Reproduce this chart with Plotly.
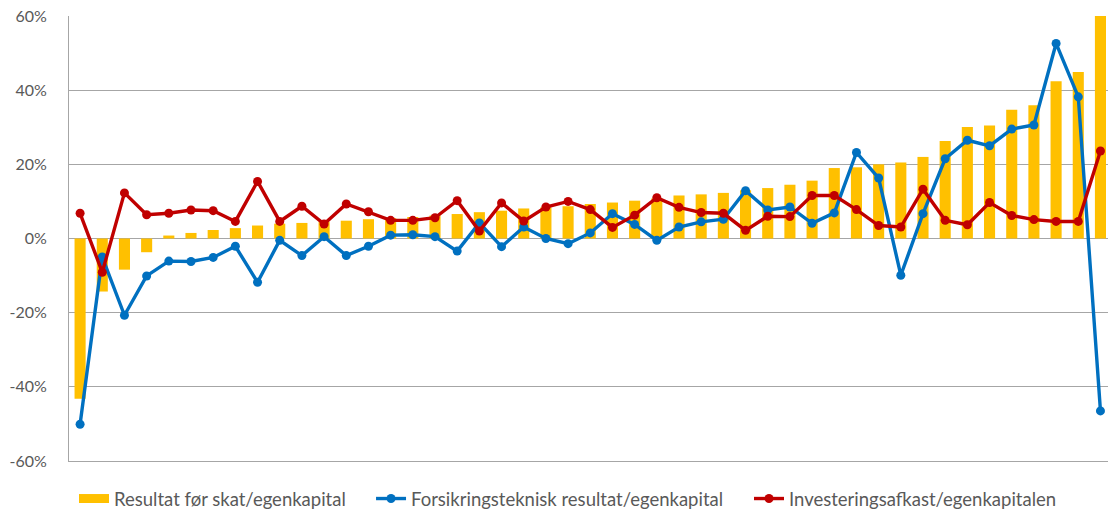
import plotly.graph_objects as go

# Company index (sorted by result before tax)
companies = list(range(1, 48))

# Result before tax / equity (%)
resultat_foer_skat = [
    -43.2, -14.3, -8.4, -3.7, 0.8, 1.5, 2.3, 2.8, 3.5, 4.0,
    4.2, 4.5, 4.8, 5.2, 5.5, 5.8, 6.2, 6.6, 7.1, 7.5,
    8.1, 8.4, 8.7, 9.3, 9.7, 10.2, 10.8, 11.6, 11.9, 12.3,
    13.0, 13.6, 14.5, 15.6, 19.0, 19.2, 20.0, 20.5, 22.0, 26.3,
    30.1, 30.5, 34.7, 35.9, 42.4, 44.9, 62.0,
]

# Technical insurance result / equity (%)
forsikringsteknisk = [
    -50.1, -5.0, -20.7, -10.1, -6.1, -6.2, -5.1, -2.1, -11.8, -0.5,
    -4.6, 0.5, -4.6, -2.1, 0.9, 1.0, 0.5, -3.4, 4.2, -2.2,
    3.1, 0.0, -1.4, 1.5, 6.7, 3.8, -0.5, 3.1, 4.5, 5.2,
    12.9, 7.7, 8.5, 4.1, 6.9, 23.2, 16.3, -9.9, 6.7, 21.5,
    26.5, 25.0, 29.5, 30.6, 52.6, 38.2, -46.5,
]

# Investment return / equity (%)
investeringsafkast = [
    6.8, -9.1, 12.3, 6.4, 6.8, 7.7, 7.5, 4.6, 15.4, 4.6,
    8.7, 3.9, 9.3, 7.2, 4.9, 4.9, 5.6, 10.2, 2.0, 9.6,
    4.7, 8.5, 10.0, 7.8, 3.0, 6.3, 11.0, 8.4, 7.0, 6.8,
    2.2, 6.0, 5.9, 11.6, 11.6, 7.8, 3.5, 3.1, 13.3, 4.9,
    3.7, 9.7, 6.2, 5.1, 4.6, 4.6, 23.6,
]

y_ticks = [-60, -40, -20, 0, 20, 40, 60]
y_tick_labels = [f"{v}%" for v in y_ticks]

FONT = "Lato, 'Open Sans', sans-serif"
GRID = "#A6A6A6"
TEXT = "#595959"
YELLOW = "#FFC000"
BLUE = "#0070C0"
RED = "#C00000"

fig = go.Figure()

# Bars (legend entry drawn by a wide swatch trace below)
fig.add_trace(go.Bar(
    x=companies,
    y=resultat_foer_skat,
    name="Resultat før skat/egenkapital",
    legendgroup="res",
    showlegend=False,
    marker=dict(color=YELLOW, line=dict(width=0)),
    width=0.5,
))
# Wide rectangular legend swatch for the bar series
fig.add_trace(go.Scatter(
    x=[None],
    y=[None],
    name="Resultat før skat/egenkapital",
    legendgroup="res",
    legend="legend",
    mode="lines",
    line=dict(color=YELLOW, width=9),
    hoverinfo="skip",
))

fig.add_trace(go.Scatter(
    x=companies,
    y=forsikringsteknisk,
    name="Forsikringsteknisk resultat/egenkapital",
    legend="legend2",
    mode="lines+markers",
    line=dict(color=BLUE, width=3.4),
    marker=dict(color=BLUE, size=9),
))

fig.add_trace(go.Scatter(
    x=companies,
    y=investeringsafkast,
    name="Investeringsafkast/egenkapitalen",
    legend="legend3",
    mode="lines+markers",
    line=dict(color=RED, width=3.4),
    marker=dict(color=RED, size=9),
))


def legend_box(x):
    # One legend per series, laid out in a row under the plot
    return dict(
        orientation="h",
        x=x, xanchor="left",
        y=-0.0854, yanchor="middle",
        font=dict(family=FONT, size=18.5, color=TEXT),
        itemwidth=30,
        bgcolor="rgba(0,0,0,0)",
    )


fig.update_layout(
    width=1108,
    height=513,
    margin=dict(l=69, r=0, t=16, b=52, autoexpand=False),
    paper_bgcolor="white",
    plot_bgcolor="white",
    font=dict(family=FONT, size=16, color=TEXT),
    showlegend=True,
    legend=legend_box(0.0048),
    legend2=legend_box(0.2907),
    legend3=legend_box(0.6545),
    bargap=0.5,
)

fig.update_xaxes(
    range=[0.5, 47.34],
    showticklabels=False,
    ticks="",
    showgrid=False,
    zeroline=False,
    showline=True,
    linecolor=GRID,
    linewidth=1,
)

fig.update_yaxes(
    range=[-60, 60],
    tickvals=y_ticks,
    ticktext=y_tick_labels,
    showgrid=True,
    gridcolor=GRID,
    gridwidth=1,
    zeroline=True,
    zerolinecolor=GRID,
    zerolinewidth=1,
    showline=True,
    linecolor=GRID,
    linewidth=1,
    ticks="",
    ticklabelstandoff=18,
    tickfont=dict(family=FONT, size=16, color=TEXT),
)

fig.write_html("out.html")
